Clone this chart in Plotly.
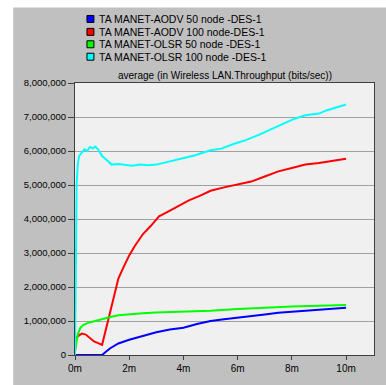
import plotly.graph_objects as go

# ---- data (minutes, bits/sec) ----
aodv50_t = [0, 0.5, 1.0, 1.15, 1.3, 1.6, 2.0, 2.5, 3.0, 3.5, 4.0, 4.5, 5.0, 5.5, 6.0, 6.5, 7.0, 7.5, 8.0, 8.5, 9.0, 9.5, 10.0]
aodv50_v = [0, 0, 0, 0.1e6, 0.2e6, 0.34e6, 0.45e6, 0.56e6, 0.67e6, 0.75e6, 0.8e6, 0.91e6, 1.0e6, 1.05e6, 1.09e6, 1.14e6, 1.19e6, 1.24e6, 1.27e6, 1.3e6, 1.33e6, 1.36e6, 1.39e6]

aodv100_t = [0, 0.03, 0.1, 0.25, 0.4, 0.55, 0.7, 0.85, 1.0, 1.3, 1.6, 1.8, 2.0, 2.2, 2.5, 2.8, 3.1, 3.4, 3.8, 4.2, 4.6, 5.0, 5.5, 6.0, 6.5, 7.0, 7.5, 8.0, 8.5, 9.0, 9.5, 10.0]
aodv100_v = [0.1e6, 0.45e6, 0.55e6, 0.63e6, 0.6e6, 0.5e6, 0.4e6, 0.35e6, 0.3e6, 1.27e6, 2.25e6, 2.6e6, 2.93e6, 3.2e6, 3.55e6, 3.8e6, 4.08e6, 4.2e6, 4.38e6, 4.55e6, 4.68e6, 4.83e6, 4.93e6, 5.02e6, 5.1e6, 5.25e6, 5.4e6, 5.5e6, 5.6e6, 5.65e6, 5.72e6, 5.77e6]

olsr50_t = [0, 0.05, 0.1, 0.2, 0.3, 0.5, 0.8, 1.0, 1.3, 1.6, 2.0, 2.5, 3.0, 4.0, 5.0, 6.0, 7.0, 8.0, 9.0, 10.0]
olsr50_v = [0.1e6, 0.3e6, 0.6e6, 0.8e6, 0.88e6, 0.95e6, 1.02e6, 1.05e6, 1.12e6, 1.17e6, 1.2e6, 1.23e6, 1.25e6, 1.27e6, 1.3e6, 1.35e6, 1.4e6, 1.43e6, 1.45e6, 1.47e6]

olsr100_t = [0, 0.03, 0.06, 0.1, 0.15, 0.25, 0.35, 0.45, 0.55, 0.65, 0.75, 0.85, 1.0, 1.15, 1.35, 1.6, 1.9, 2.1, 2.4, 2.7, 3.0, 3.4, 3.8, 4.4, 5.0, 5.4, 5.9, 6.3, 6.8, 7.2, 7.6, 8.1, 8.5, 9.0, 9.3, 9.7, 10.0]
olsr100_v = [0, 3.0e6, 5.0e6, 5.6e6, 5.85e6, 5.95e6, 6.05e6, 6.0e6, 6.12e6, 6.08e6, 6.13e6, 6.05e6, 5.85e6, 5.75e6, 5.6e6, 5.62e6, 5.58e6, 5.57e6, 5.6e6, 5.58e6, 5.6e6, 5.68e6, 5.75e6, 5.87e6, 6.02e6, 6.07e6, 6.22e6, 6.32e6, 6.48e6, 6.62e6, 6.78e6, 6.95e6, 7.05e6, 7.1e6, 7.2e6, 7.3e6, 7.37e6]

series_names = ["TA MANET-AODV 50 node -DES-1", "TA MANET-AODV 100 node-DES-1",
                "TA MANET-OLSR 50 node -DES-1", "TA MANET-OLSR 100 node -DES-1"]
series_colors = ["#0000ff", "#ff0000", "#00ff00", "#00ffff"]

x_tickvals = [0, 2, 4, 6, 8, 10]
x_ticktext = ["0m", "2m", "4m", "6m", "8m", "10m"]
y_tickvals = [0, 1e6, 2e6, 3e6, 4e6, 5e6, 6e6, 7e6, 8e6]
y_ticktext = ["0", "1,000,000", "2,000,000", "3,000,000", "4,000,000", "5,000,000", "6,000,000", "7,000,000", "8,000,000"]
title_text = "average (in Wireless LAN.Throughput (bits/sec))"

# ---- layout geometry (pixels) ----
W, H = 386, 385
L, R, T, B = 75, 11, 83, 28
PW, PH = W - L - R, H - T - B

def px(x):
    return (x - L) / PW

def py(y):
    return (H - B - y) / PH

FONT = "Liberation Sans, Arial, sans-serif"

fig = go.Figure()
data = [(aodv50_t, aodv50_v), (aodv100_t, aodv100_v), (olsr50_t, olsr50_v), (olsr100_t, olsr100_v)]
for (t, v), name, c in zip(data, series_names, series_colors):
    fig.add_trace(go.Scatter(x=t, y=v, mode="lines", name=name,
                             line=dict(color=c, width=2), showlegend=False))

shapes = [
    dict(type="rect", xref="paper", yref="paper", x0=px(-5), x1=px(13), y0=py(400), y1=py(-5),
         fillcolor="white", line=dict(width=0), layer="below"),
    dict(type="rect", xref="paper", yref="paper", x0=px(-5), x1=px(400), y0=py(7), y1=py(-5),
         fillcolor="white", line=dict(width=0), layer="below"),
]
annotations = [
    dict(text=title_text, xref="paper", yref="paper", x=0.5, y=py(75), xanchor="center",
         yanchor="middle", showarrow=False, font=dict(family=FONT, size=10, color="#000000")),
]
legend_y = [18.5, 31.5, 44, 56.5]
for name, c, yy in zip(series_names, series_colors, legend_y):
    shapes.append(dict(type="rect", xref="paper", yref="paper", x0=px(87), x1=px(94),
                       y0=py(yy + 3.5), y1=py(yy - 3.5), fillcolor=c,
                       line=dict(color="#000000", width=1), layer="above"))
    annotations.append(dict(text=name, xref="paper", yref="paper", x=px(97), y=py(yy),
                            xanchor="left", yanchor="middle", showarrow=False,
                            font=dict(family=FONT, size=10.5, color="#000000")))

fig.update_layout(
    width=W, height=H,
    margin=dict(l=L, r=R, t=T, b=B, pad=0),
    paper_bgcolor="#c0c0c0",
    plot_bgcolor="#f0f0f0",
    shapes=shapes,
    annotations=annotations,
    showlegend=False,
    xaxis=dict(range=[0, 11.03], tickvals=x_tickvals, ticktext=x_ticktext,
               showgrid=False, zeroline=False, showline=True, linecolor="#404040", linewidth=1,
               mirror=True, ticks="outside", ticklen=4, tickcolor="#404040",
               tickfont=dict(family=FONT, size=10, color="#000000")),
    yaxis=dict(range=[0, 8e6], tickvals=y_tickvals, ticktext=y_ticktext,
               showgrid=True, gridcolor="#a0a0a0", gridwidth=1, zeroline=False,
               showline=True, linecolor="#404040", linewidth=1, mirror=True,
               ticks="outside", ticklen=6, tickcolor="#404040",
               tickfont=dict(family=FONT, size=9.5, color="#000000")),
)

fig.write_html("out.html", config={"displayModeBar": False},
               post_script="document.body.style.margin='0';")
